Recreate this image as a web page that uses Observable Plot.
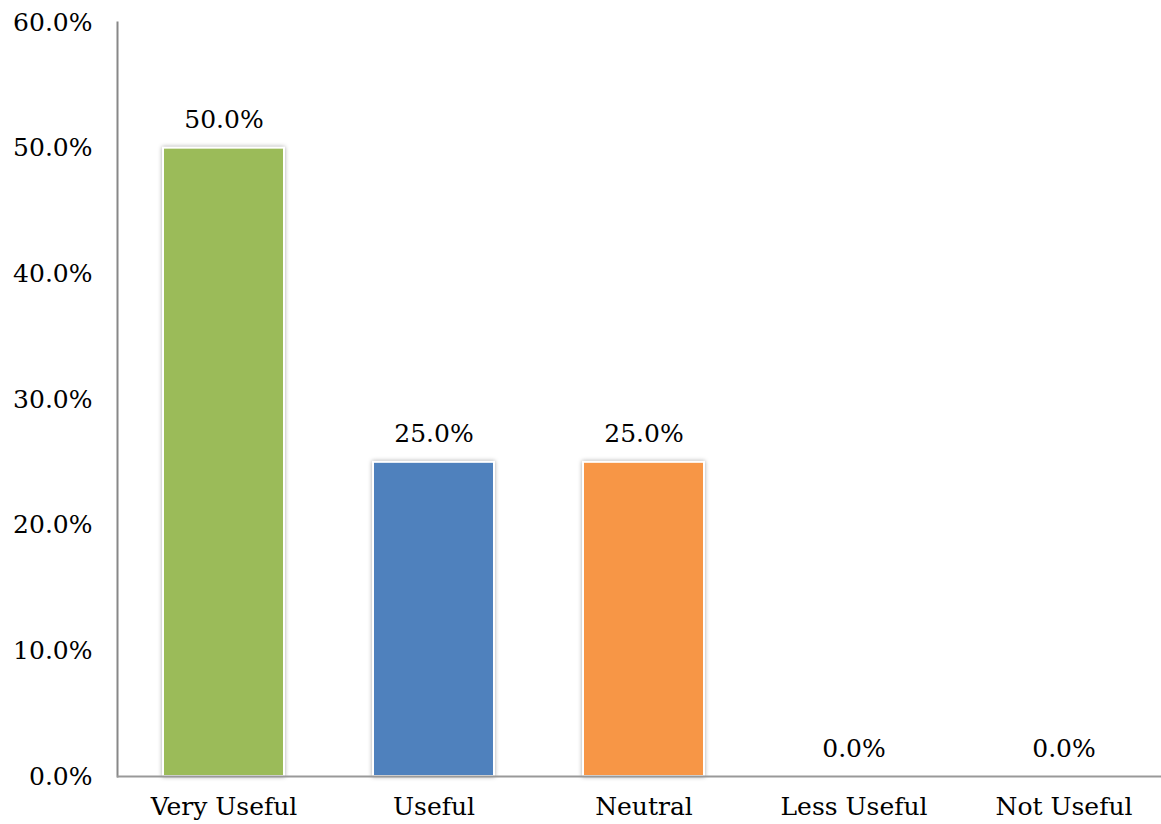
<!DOCTYPE html>
<html>
<head>
<meta charset="utf-8">
<script src="https://cdn.jsdelivr.net/npm/d3@7"></script>
<script src="https://cdn.jsdelivr.net/npm/@observablehq/plot@0.6"></script>
<style>
  html, body { margin: 0; padding: 0; background: #fff; }
  #chart svg { display: block; }
</style>
</head>
<body>
<div id="chart"></div>
<script>
const categories = ["Very Useful", "Useful", "Neutral", "Less Useful", "Not Useful"];
const values = [0.50, 0.25, 0.25, 0.0, 0.0];
const colors = ["#9BBB59", "#4F81BD", "#F79646", "#C0504D", "#8064A2"];
const yTicks = [0, 0.1, 0.2, 0.3, 0.4, 0.5, 0.6];

const data = categories.map((c, i) => ({category: c, value: values[i], color: colors[i]}));
const fmt = d3.format(".1%");
const font = "'DejaVu Serif', serif";

const chart = Plot.plot({
  width: 1161,
  height: 824,
  marginLeft: 117,
  marginRight: 0,
  marginTop: 22,
  marginBottom: 48,
  style: {fontFamily: font, fontSize: "25px", color: "#000", background: "#fff"},
  x: {domain: categories, range: [117, 1170], paddingInner: 0.426, paddingOuter: 0.213, label: null, tickSize: 0, tickPadding: 21},
  y: {domain: [0, 0.6], ticks: yTicks, tickFormat: fmt, label: null, tickSize: 0, tickPadding: 25},
  marks: [
    Plot.barY(data.filter(d => d.value > 0), {x: "category", y: "value", fill: "color", stroke: "#fff", strokeWidth: 2}),
    Plot.frame({anchor: "left", stroke: "#888", strokeWidth: 2}),
    Plot.ruleY([0], {stroke: "#999", strokeWidth: 2}),
    Plot.text(data, {x: "category", y: "value", text: d => fmt(d.value), dy: -28, fill: "#000"})
  ]
});
chart.querySelectorAll('g[aria-label="bar"] rect').forEach(r => {
  r.style.filter = "drop-shadow(0px 0px 2px rgba(0,0,0,0.35))";
});
document.getElementById("chart").appendChild(chart);
</script>
</body>
</html>
